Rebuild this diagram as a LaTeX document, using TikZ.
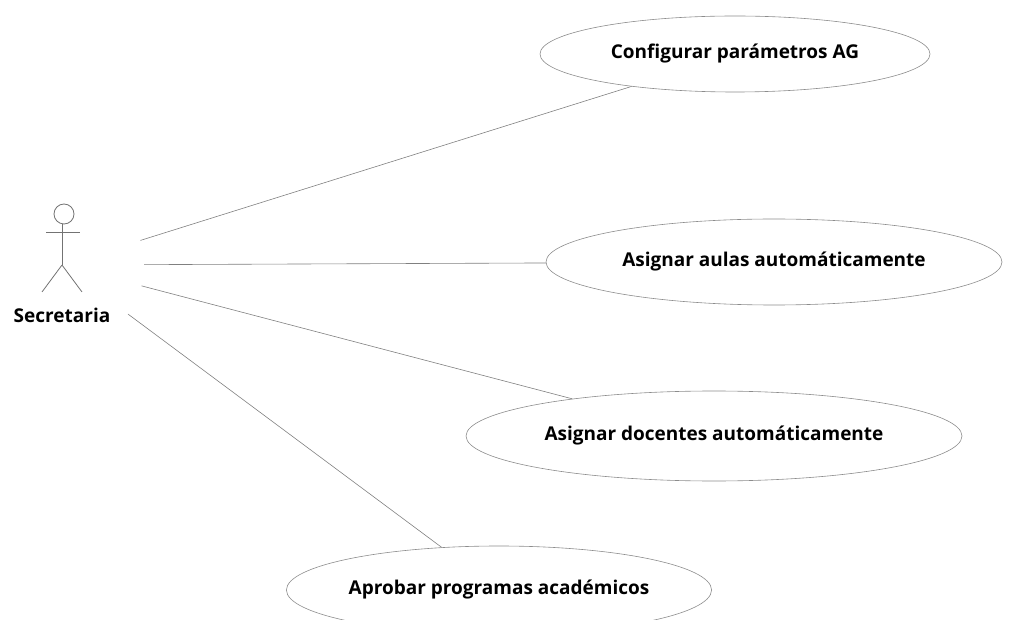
\documentclass[tikz,border=0pt]{standalone}
\usepackage{fontspec}
\setmainfont{Open Sans}
\usetikzlibrary{shapes.geometric}
\begin{document}
\begin{tikzpicture}[x=1pt,y=-1pt,
  usecase/.style={ellipse, draw=black!45, line width=0.6pt, inner sep=0pt,
    font=\bfseries\fontsize{19}{22}\selectfont},
  assoc/.style={draw=black!50, line width=0.6pt},
  figure/.style={draw=black!55, line width=0.8pt},
  actorzone/.style={circle, draw=none, inner sep=0pt, minimum size=164pt},
  actorname/.style={font=\bfseries\fontsize{19}{22}\selectfont}]
\useasboundingbox (0,0) rectangle (1010,620);

% actor: stick figure with its name
\draw[figure] (64,214) circle (10);
\draw[figure] (62,224) -- (62,265);
\draw[figure] (46,232) -- (80,232);
\draw[figure] (62,265) -- (42,292);
\draw[figure] (62,265) -- (82,292);
\node[actorname] (name) at (62,315) {Secretaria};
\node[actorzone] (secretaria) at (62,265) {};

% use cases
\node[usecase, minimum width=390pt, minimum height=76pt] (uc1) at (735,54) {Configurar parámetros AG};
\node[usecase, minimum width=456pt, minimum height=86pt] (uc2) at (774,262) {Asignar aulas automáticamente};
\node[usecase, minimum width=496pt, minimum height=90pt] (uc3) at (714,436) {Asignar docentes automáticamente};
\node[usecase, minimum width=410pt, minimum height=88pt] (uc4) at (499,590) {Aprobar programas académicos};

% associations
\draw[assoc] (secretaria) -- (uc1);
\draw[assoc] (secretaria) -- (uc2);
\draw[assoc] (secretaria) -- (uc3);
\draw[assoc] (secretaria) -- (uc4);
\end{tikzpicture}
\end{document}
